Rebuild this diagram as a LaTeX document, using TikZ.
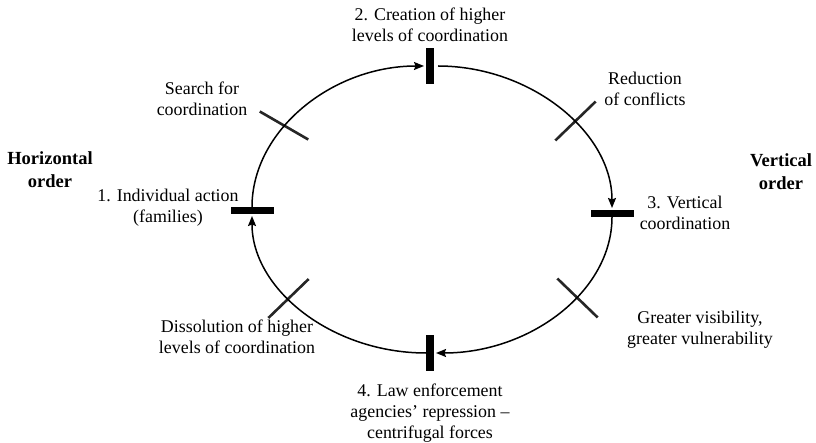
\documentclass[tikz,border=0pt]{standalone}
\usepackage{fontspec}
\setmainfont{Liberation Serif}
\usepackage{tikz}
\usetikzlibrary{arrows.meta,positioning,calc}

\begin{document}
\begin{tikzpicture}[x=1pt, y=-1pt, >={Stealth[length=10pt,width=8pt,inset=1.5pt]},
  lbl/.style={align=center, inner sep=0pt, font=\fontsize{17.9}{21.3}\selectfont},
  orderlbl/.style={align=center, inner sep=0pt, font=\fontsize{18.5}{23}\selectfont\bfseries},
  vbar/.style={fill=black, inner sep=0pt, outer sep=0pt, minimum width=8pt, minimum height=36pt},
  hbar/.style={fill=black, inner sep=0pt, outer sep=0pt, minimum width=43pt, minimum height=7pt},
  tickmark/.style={fill=black!85, inner sep=0pt, outer sep=0pt, minimum width=56pt, minimum height=2.6pt},
  ring/.style={line width=1.5pt, shorten >=2pt}]

  \useasboundingbox (0,0) rectangle (816,443);

  % Define coordinates for nodes
  \node[hbar] (s1) at (252, 210.5) {};
  \node[vbar] (s2) at (430, 66) {};
  \node[hbar] (s3) at (612, 213.5) {};
  \node[vbar] (s4) at (430, 353) {};

  \node[tickmark, rotate=-30] (c1) at (284, 125.5) {};
  \node[tickmark, rotate=44] (c2) at (575.5, 121) {};
  \node[tickmark, rotate=-44] (c3) at (577.5, 298) {};
  \node[tickmark, rotate=44] (c4) at (288.5, 298.5) {};

  % Labels
  \node[lbl] (t1) at (168, 207.5) {1. Individual action\\(families)};
  \node[lbl] (t2) at (430, 24.5) {2. Creation of higher\\levels of coordination};
  \node[lbl] (t3) at (685, 213) {3. Vertical\\coordination};
  \node[lbl] (t4) at (430, 413) {4. Law enforcement\\agencies’ repression --\\centrifugal forces};
  \node[lbl] (search) at (202, 99) {Search for\\coordination};
  \node[lbl] (reduce) at (645, 89) {Reduction\\of conflicts};
  \node[lbl] (visible) at (700, 329.5) {Greater visibility,\\greater vulnerability};
  \node[lbl] (dissolve) at (237, 337) {Dissolution of higher\\levels of coordination};
  \node[orderlbl] (horiz) at (50, 170) {Horizontal\\order};
  \node[orderlbl] (vert) at (781, 171.5) {Vertical\\order};

  % Draw arrows between nodes
  \draw[ring, ->] (s1) .. controls +(0,-80) and +(-98,0) .. (s2);
  \draw[ring, ->, shorten <=4pt] (s2) .. controls +(100,0) and +(0,-82) .. (s3);
  \draw[ring, ->] (s3) .. controls +(0,78) and +(100,0) .. (s4);
  \draw[ring, ->] (s4) .. controls +(-98,0) and +(0,79) .. (s1);
\end{tikzpicture}
\end{document}
